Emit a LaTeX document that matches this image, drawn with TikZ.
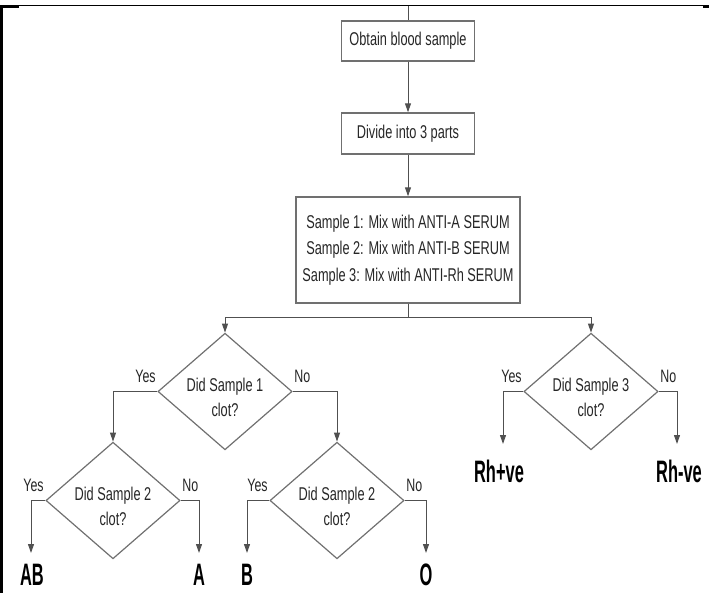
\documentclass[tikz,border=0pt]{standalone}
\usepackage{fontspec}
\setmainfont{Liberation Sans}[FakeStretch=0.69]
\newfontfamily\bigfont{Liberation Sans}[FakeStretch=0.53]
\usetikzlibrary{shapes.geometric,arrows.meta}
\definecolor{linec}{HTML}{505050}
\definecolor{boxc}{HTML}{707070}
\definecolor{txtc}{HTML}{262626}
\newcommand{\dtext}[2]{\raisebox{-7pt}[\height][\depth]{\begin{tabular}{@{}c@{}}#1\\#2\end{tabular}}}
\begin{document}
\begin{tikzpicture}[x=1pt,y=-1pt,
  conn/.style={draw=linec, line width=1pt},
  arr/.style={conn, -{Triangle[length=9pt,width=6pt]}},
  procbox/.style={draw=boxc, line width=1.4pt, minimum width=133pt, minimum height=40pt, inner sep=0pt, font=\fontsize{18.5}{26.5}\selectfont, text=txtc, align=center},
  decision/.style={diamond, draw=boxc, line width=1.2pt, minimum width=126pt, minimum height=109pt, inner sep=0pt, aspect=1.15, font=\fontsize{18.5}{25}\selectfont, text=txtc},
  branch/.style={font=\fontsize{18}{20}\selectfont, text=txtc, inner sep=1.5pt, yshift=7pt},
  result/.style={font=\bigfont\bfseries\fontsize{31}{31}\selectfont, text=black, inner sep=0pt, anchor=north},
]
\useasboundingbox (0,0) rectangle (709,593);
% frame
\fill (0,5) rectangle (19,8);
\fill (0,5) rectangle (3,593);
\fill (703,5) rectangle (709,8);
\draw[line width=1pt] (0,6) -- (709,6);

\coordinate (top) at (408,6);
\node[procbox] (b1) at (408,41) {Obtain blood sample};
\node[procbox, minimum height=41pt] (b2) at (408,133.5) {Divide into 3 parts};
\node[procbox, minimum width=224pt, minimum height=106pt] (b3) at (408,250) {Sample 1: Mix with ANTI-A SERUM\\Sample 2: Mix with ANTI-B SERUM\\Sample 3: Mix with ANTI-Rh SERUM};
\coordinate (split) at (408,318);

\node[decision] (d1) at (225,391.5) {\dtext{Did Sample 1}{clot?}};
\node[decision] (d2) at (113,500.5) {\dtext{Did Sample 2}{clot?}};
\node[decision] (d4) at (337,500.5) {\dtext{Did Sample 2}{clot?}};
\node[decision] (d3) at (591,391.5) {\dtext{Did Sample 3}{clot?}};

\node[branch, anchor=south east] (y1) at (d1.west) {Yes};
\node[branch, anchor=south west] (n1) at (d1.east) {No};
\node[branch, anchor=south east] (y2) at (d2.west) {Yes};
\node[branch, anchor=south west] (n2) at (d2.east) {No};
\node[branch, anchor=south east] (y4) at (d4.west) {Yes};
\node[branch, anchor=south west] (n4) at (d4.east) {No};
\node[branch, anchor=south east] (y3) at (d3.west) {Yes};
\node[branch, anchor=south west] (n3) at (d3.east) {No};

\node[result] (ab) at (32,564) {AB};
\node[result] (a) at (199,564) {A};
\node[result] (b) at (247,564) {B};
\node[result] (o) at (426,564) {O};
\node[result] (rhp) at (499,460) {Rh+ve};
\node[result] (rhn) at (679,460) {Rh-ve};

\draw[conn] (top) -- (b1.north);
\draw[arr] (b1) -- (b2);
\draw[arr] (b2) -- (b3);
\draw[conn] (b3.south) -- (split);
\draw[arr] (split) -| (d1.north);
\draw[arr] (split) -| (d3.north);
\draw[arr] (d1.west) -| (d2.north);
\draw[arr] (d1.east) -| (d4.north);
\draw[arr, shorten >=11pt] (d2.west) -| ([xshift=-1pt]ab.north);
\draw[arr, shorten >=11pt] (d2.east) -| (a.north);
\draw[arr, shorten >=11pt] (d4.west) -| (b.north);
\draw[arr, shorten >=11pt] (d4.east) -| (o.north);
\draw[arr, shorten >=16pt] (d3.west) -| ([xshift=4pt]rhp.north);
\draw[arr, shorten >=16pt] (d3.east) -| ([xshift=-2pt]rhn.north);
\end{tikzpicture}
\end{document}
